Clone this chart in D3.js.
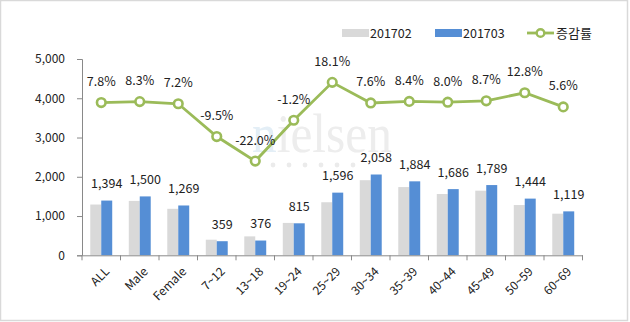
<!DOCTYPE html>
<html><head><meta charset="utf-8">
<script src="https://cdn.jsdelivr.net/npm/d3@7"></script>
<style>body{margin:0;background:#fff}svg{display:block}text{font-family:"Malgun Gothic","Noto Sans CJK KR","DejaVu Sans",sans-serif}text.wm{font-family:"Liberation Serif","DejaVu Serif",serif}</style>
</head><body><svg id="c" width="630" height="322"></svg>
<script>
const categories = ["ALL","Male","Female","7~12","13~18","19~24","25~29","30~34","35~39","40~44","45~49","50~59","60~69"];
const values201702 = [1293,1385,1184,397,482,825,1351,1913,1738,1561,1646,1280,1060];
const values201703 = [1394,1500,1269,359,376,815,1596,2058,1884,1686,1789,1444,1119];
const growthRate = [7.8,8.3,7.2,-9.5,-22.0,-1.2,18.1,7.6,8.4,8.0,8.7,12.8,5.6];
const yTicks = [0,1000,2000,3000,4000,5000];
const seriesNames = ["201702","201703","증감률"];
const colors = {g:"#D9D9D9", b:"#558ED5", l:"#9BBB59"};

const svg = d3.select("#c");
svg.append("rect").attr("x",0.5).attr("y",0.5).attr("width",627).attr("height",320)
  .attr("fill","#fff").attr("stroke","#D9D9D9").attr("stroke-width",1.5);

const L=82, R=582.5, T=59, B=255.3;
const x = d3.scaleBand().domain(categories).range([L,R]);
const y = d3.scaleLinear().domain([0,5000]).range([B,T]);
const y2 = d3.scaleLinear().domain([-70,30]).range([B,T]);
const inner = x.bandwidth()*0.57, bw = inner/2;

// watermark
const wm = svg.append("g");
const wt = wm.append("text").attr("class","wm").attr("x",252).attr("y",152)
  .attr("font-size",54).attr("textLength",140).attr("lengthAdjust","spacingAndGlyphs").attr("fill","#EDEDED");
wt.append("tspan").attr("fill","#E3EEF6").text("n");
wt.append("tspan").text("ielsen");
d3.range(6).forEach(i=>wm.append("circle").attr("cx",273+i*16).attr("cy",165).attr("r",2.4).attr("fill","#EBEBEB"));

// y axis
const ya = svg.append("g").attr("transform",`translate(${L},0)`)
  .call(d3.axisLeft(y).tickValues(yTicks).tickFormat(d3.format(",")).tickSize(5).tickPadding(12));
ya.select(".domain").attr("stroke","#898989");
ya.selectAll(".tick line").attr("stroke","#898989");
ya.selectAll(".tick text").attr("font-size",12).attr("fill","#222");

// bars
const g = svg.append("g");
categories.forEach((c,i)=>{
  const cx = x(c)+x.bandwidth()/2;
  g.append("rect").attr("x",cx-bw).attr("width",bw).attr("y",y(values201702[i])).attr("height",B-y(values201702[i])).attr("fill",colors.g);
  g.append("rect").attr("x",cx).attr("width",bw).attr("y",y(values201703[i])).attr("height",B-y(values201703[i])).attr("fill",colors.b);
  g.append("text").attr("x",cx+bw/2).attr("y",y(values201703[i])-12.5).attr("text-anchor","middle")
    .attr("font-size",12.5).attr("fill","#222").text(d3.format(",")(values201703[i]));
});

// x axis
const xa = svg.append("g").attr("transform",`translate(0,${B})`)
  .call(d3.axisBottom(x).tickSize(0).tickFormat(""));
xa.select(".domain").attr("stroke","#898989");
categories.concat([null]).forEach((c,i)=>{
  const xx = L + i*x.step();
  xa.append("line").attr("x1",xx).attr("x2",xx).attr("y1",0).attr("y2",5).attr("stroke","#898989");
});
categories.forEach(c=>{
  const cx = x(c)+x.bandwidth()/2+3;
  svg.append("text").attr("transform",`translate(${cx},${B+11}) rotate(-45)`).attr("text-anchor","end")
    .attr("dy","0.7em").attr("font-size",12).attr("fill","#222").text(c);
});

// line
const pts = categories.map((c,i)=>[x(c)+x.bandwidth()/2, y2(growthRate[i])]);
svg.append("path").attr("d",d3.line()(pts)).attr("fill","none").attr("stroke",colors.l).attr("stroke-width",2.8);
pts.forEach((p,i)=>{
  svg.append("circle").attr("cx",p[0]).attr("cy",p[1]).attr("r",4.3).attr("fill","#fff").attr("stroke",colors.l).attr("stroke-width",2.6);
  svg.append("text").attr("x",p[0]).attr("y",p[1]-16.5).attr("text-anchor","middle").attr("font-size",12.5).attr("fill","#222")
    .text(growthRate[i].toFixed(1)+"%");
});

// legend
const lg = svg.append("g");
lg.append("rect").attr("x",342).attr("y",29).attr("width",27).attr("height",8).attr("fill",colors.g);
lg.append("text").attr("x",370).attr("y",37.5).attr("font-size",12.5).attr("fill","#222").text(seriesNames[0]);
lg.append("rect").attr("x",435).attr("y",29).attr("width",27).attr("height",8).attr("fill",colors.b);
lg.append("text").attr("x",463).attr("y",37.5).attr("font-size",12.5).attr("fill","#222").text(seriesNames[1]);
lg.append("line").attr("x1",527).attr("x2",554).attr("y1",33).attr("y2",33).attr("stroke",colors.l).attr("stroke-width",2.8);
lg.append("circle").attr("cx",540.5).attr("cy",33).attr("r",3.8).attr("fill","#fff").attr("stroke",colors.l).attr("stroke-width",2.4);
lg.append("text").attr("x",556).attr("y",38).attr("font-size",13).attr("fill","#222").text(seriesNames[2]);
</script></body></html>
